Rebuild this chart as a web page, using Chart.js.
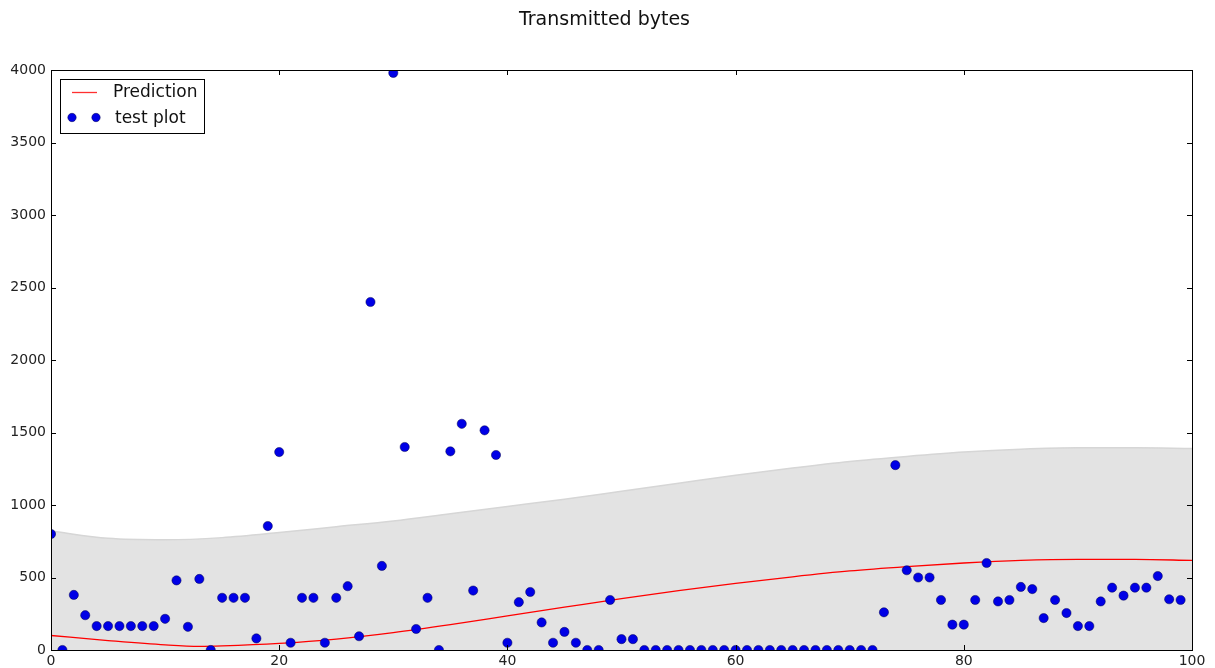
<!DOCTYPE html>
<html>
<head>
<meta charset="utf-8">
<script src="https://cdn.jsdelivr.net/npm/chart.js@4/dist/chart.umd.min.js"></script>
<style>
html,body{margin:0;padding:0;background:#fff;}
#wrap{width:1215px;height:668px;}
</style>
</head>
<body>
<div id="wrap"><canvas id="c" width="1215" height="668"></canvas></div>
<script>
// ---- data ----
const title = "Transmitted bytes";
const seriesNames = ["Prediction", "test plot"];
const xTicks = [0, 20, 40, 60, 80, 100];
const yTicks = [0, 500, 1000, 1500, 2000, 2500, 3000, 3500, 4000];

const sampleX = [
  0,1,2,3,4,5,6,7,8,9,10,11,12,13,14,15,16,17,18,19,
  20,21,22,23,24,25,26,27,28,29,30,31,32,33,34,35,36,37,38,39,
  40,41,42,43,44,45,46,47,48,49,50,51,52,53,54,55,56,57,58,59,
  60,61,62,63,64,65,66,67,68,69,70,71,72,73,74,75,76,77,78,79,
  80,81,82,83,84,85,86,87,88,89,90,91,92,93,94,95,96,97,98,99];
const bytes = [
  800,0,380,240,165,165,165,165,165,165,215,480,160,490,0,360,360,360,80,855,
  1365,50,360,360,50,360,440,95,2400,580,3980,1400,145,360,0,1370,1560,410,1515,1345,
  50,330,400,190,50,125,50,0,0,345,75,75,0,0,0,0,0,0,0,0,
  0,0,0,0,0,0,0,0,0,0,0,0,0,260,1275,550,500,500,345,175,
  175,345,600,335,345,435,420,220,345,255,165,165,335,430,375,430,430,510,350,345];

const curveX = [0,5,10,13,15,20,25,30,35,40,45,50,55,60,65,70,75,80,85,90,95,100];
const prediction = [100,65,35,25,28,45,75,120,175,235,295,355,410,460,505,545,575,600,618,625,625,618];
const bandX = [0,5,10,15,20,25,30,35,40,45,50,55,60,65,70,75,80,85,90,95,100];
const bandUpper = [820,770,760,775,810,850,890,940,990,1040,1095,1150,1205,1255,1300,1335,1365,1385,1395,1395,1390];

// ---- build ----
const zip = (xs, ys) => xs.map((x, i) => ({x: x, y: ys[i]}));
const FONT = "'DejaVu Sans', sans-serif";

const frameTicks = {
  id: 'frameTicks',
  afterDatasetsDraw(chart) {
    const {ctx, chartArea: a, scales: {x, y}} = chart;
    ctx.save();
    ctx.strokeStyle = '#000';
    ctx.lineWidth = 1;
    ctx.beginPath();
    const L = 5;
    xTicks.forEach(v => {
      const px = Math.round(x.getPixelForValue(v)) + 0.5;
      ctx.moveTo(px, a.bottom); ctx.lineTo(px, a.bottom - L);
      ctx.moveTo(px, a.top); ctx.lineTo(px, a.top + L);
    });
    yTicks.forEach(v => {
      const py = Math.round(y.getPixelForValue(v)) + 0.5;
      ctx.moveTo(a.left, py); ctx.lineTo(a.left + L, py);
      ctx.moveTo(a.right, py); ctx.lineTo(a.right - L, py);
    });
    ctx.stroke();
    ctx.strokeRect(Math.round(a.left) + 0.5, Math.round(a.top) + 0.5,
                   Math.round(a.right - a.left), Math.round(a.bottom - a.top));
    ctx.restore();
  },
  afterDraw(chart) {
    const {ctx, chartArea: a} = chart;
    ctx.save();
    // title
    ctx.fillStyle = '#111';
    ctx.font = '19px ' + FONT;
    ctx.textAlign = 'center';
    ctx.textBaseline = 'middle';
    ctx.fillText(title, chart.width / 2 - 3, 20);
    ctx.textAlign = 'left';
    // legend
    const bx = a.left + 9, by = a.top + 9, bw = 144, bh = 54;
    ctx.fillStyle = '#fff';
    ctx.fillRect(bx, by, bw, bh);
    ctx.strokeStyle = '#000';
    ctx.lineWidth = 1;
    ctx.strokeRect(Math.round(bx) + 0.5, Math.round(by) + 0.5, bw, bh);
    ctx.strokeStyle = '#ff3030';
    ctx.lineWidth = 1.3;
    ctx.beginPath();
    ctx.moveTo(bx + 12, by + 13.5); ctx.lineTo(bx + 37, by + 13.5);
    ctx.stroke();
    ctx.fillStyle = '#0000e6';
    ctx.strokeStyle = '#000050';
    ctx.lineWidth = 0.5;
    [bx + 12, bx + 36].forEach(cx => {
      ctx.beginPath(); ctx.arc(cx, by + 38.5, 4.2, 0, Math.PI * 2); ctx.fill(); ctx.stroke();
    });
    ctx.fillStyle = '#111';
    ctx.font = '17px ' + FONT;
    ctx.textBaseline = 'middle';
    ctx.fillText(seriesNames[0], bx + 53, by + 14);
    ctx.fillText(seriesNames[1], bx + 55, by + 39.5);
    ctx.restore();
  }
};

new Chart(document.getElementById('c'), {
  type: 'scatter',
  data: {
    datasets: [
      {
        label: 'band',
        data: zip(bandX, bandUpper),
        showLine: true,
        fill: 'start',
        backgroundColor: 'rgb(227,227,227)',
        borderColor: 'rgb(214,214,214)',
        borderWidth: 1.5,
        pointRadius: 0,
        cubicInterpolationMode: 'monotone',
        order: 3
      },
      {
        label: seriesNames[0],
        data: zip(curveX, prediction),
        showLine: true,
        fill: false,
        borderColor: '#ff0000',
        borderWidth: 1.3,
        pointRadius: 0,
        cubicInterpolationMode: 'monotone',
        order: 2
      },
      {
        label: seriesNames[1],
        data: zip(sampleX, bytes),
        showLine: false,
        backgroundColor: '#0000e6',
        borderColor: '#000050',
        borderWidth: 0.5,
        pointRadius: 4.6,
        pointHoverRadius: 4.6,
        clip: 0,
        order: 1
      }
    ]
  },
  options: {
    responsive: false,
    animation: false,
    events: [],
    layout: {padding: {left: 0, right: 23, top: 70, bottom: 0}},
    plugins: {
      legend: {display: false},
      tooltip: {enabled: false},
      title: {display: false}
    },
    scales: {
      x: {
        type: 'linear',
        min: 0, max: 100,
        afterBuildTicks: s => { s.ticks = xTicks.map(v => ({value: v})); },
        afterFit: s => { s.height = 18; },
        grid: {display: false, drawTicks: false},
        border: {display: false},
        ticks: {color: '#222', font: {family: FONT, size: 14}, padding: 3, maxRotation: 0,
                callback: v => String(v)}
      },
      y: {
        type: 'linear',
        min: 0, max: 4000,
        afterBuildTicks: s => { s.ticks = yTicks.map(v => ({value: v})); },
        afterFit: s => { s.width = 51; },
        grid: {display: false, drawTicks: false},
        border: {display: false},
        ticks: {color: '#222', font: {family: FONT, size: 14}, padding: 5,
                callback: v => String(v)}
      }
    }
  },
  plugins: [frameTicks]
});
</script>
</body>
</html>
